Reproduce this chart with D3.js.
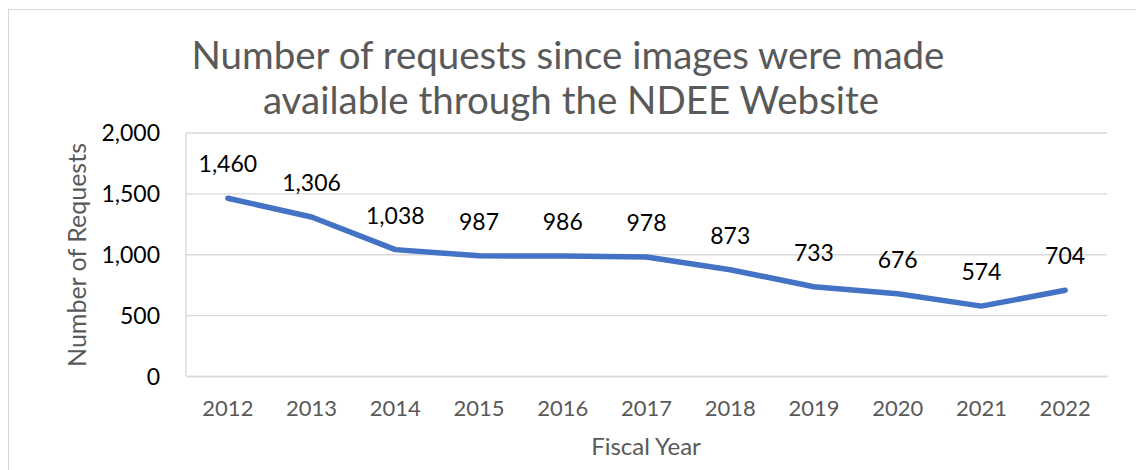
<!DOCTYPE html>
<html>
<head>
<meta charset="utf-8">
<script src="https://cdn.jsdelivr.net/npm/d3@7"></script>
<style>
  html, body { margin: 0; padding: 0; background: #fff; }
  svg { display: block; }
  text { font-family: Lato, "Open Sans", sans-serif; }
</style>
</head>
<body>
<svg id="chart" width="1136" height="470"></svg>
<script>
const years = ["2012","2013","2014","2015","2016","2017","2018","2019","2020","2021","2022"];
const requests = [1460, 1306, 1038, 987, 986, 978, 873, 733, 676, 574, 704];
const yTicks = [0, 500, 1000, 1500, 2000];
const titleLines = ["Number of requests since images were made", "available through the NDEE Website"];
const xTitle = "Fiscal Year";
const yTitle = "Number of Requests";

const svg = d3.select("#chart");
const W = 1136, H = 470;
const plot = { left: 186, right: 1107, top: 132.5, bottom: 376 };

svg.append("rect").attr("x", 0).attr("y", 0).attr("width", W).attr("height", H).attr("fill", "#fff");
// outer chart border
svg.append("rect").attr("x", 8.5).attr("y", 9.5).attr("width", W).attr("height", H)
  .attr("fill", "none").attr("stroke", "#d9d9d9").attr("stroke-width", 1);

const x = d3.scaleBand().domain(years).range([plot.left, plot.right]).padding(0);
const y = d3.scaleLinear().domain([0, 2000]).range([plot.bottom, plot.top]);

// gridlines
const yAxis = d3.axisLeft(y).tickValues(yTicks).tickFormat(d3.format(",")).tickSize(-(plot.right - plot.left)).tickPadding(26);
const gy = svg.append("g").attr("transform", `translate(${plot.left},0)`).call(yAxis);
gy.select(".domain").remove();
gy.selectAll(".tick line").attr("stroke", "#d9d9d9").attr("stroke-width", 1.3);
gy.selectAll(".tick text").attr("fill", "#000").attr("font-size", 23).attr("dy", "0.35em");

// left vertical axis line
svg.append("line").attr("x1", plot.left).attr("x2", plot.left).attr("y1", plot.top).attr("y2", plot.bottom)
  .attr("stroke", "#d9d9d9").attr("stroke-width", 1.3);

// x axis
const xAxis = d3.axisBottom(x).tickSize(0).tickPadding(39);
const gx = svg.append("g").attr("transform", `translate(0,${plot.bottom})`).call(xAxis);
gx.select(".domain").attr("stroke", "#d9d9d9").attr("stroke-width", 1.3);
gx.selectAll(".tick text").attr("fill", "#595959").attr("font-size", 22).attr("dy", "0.05em");

// line
const line = d3.line().x((d, i) => x(years[i]) + x.bandwidth() / 2).y(d => y(d));
svg.append("path").datum(requests).attr("d", line)
  .attr("fill", "none").attr("stroke", "#4472c4").attr("stroke-width", 5.5)
  .attr("stroke-linejoin", "round").attr("stroke-linecap", "round");

// data labels
svg.append("g").selectAll("text").data(requests).join("text")
  .attr("x", (d, i) => x(years[i]) + x.bandwidth() / 2)
  .attr("y", d => y(d) - 26)
  .attr("text-anchor", "middle").attr("font-size", 23).attr("fill", "#000")
  .text(d => d3.format(",")(d));

// title
svg.append("g").selectAll("text").data(titleLines).join("text")
  .attr("x", (d, i) => i === 0 ? 568 : 571)
  .attr("y", (d, i) => 69 + i * 45)
  .attr("text-anchor", "middle").attr("font-size", 38.5).attr("fill", "#595959")
  .text(d => d);

// axis titles
svg.append("text").attr("x", 646).attr("y", 455).attr("text-anchor", "middle")
  .attr("font-size", 24).attr("fill", "#595959").text(xTitle);
svg.append("text").attr("transform", `translate(86,255) rotate(-90)`).attr("text-anchor", "middle")
  .attr("font-size", 25).attr("fill", "#595959").text(yTitle);
</script>
</body>
</html>
